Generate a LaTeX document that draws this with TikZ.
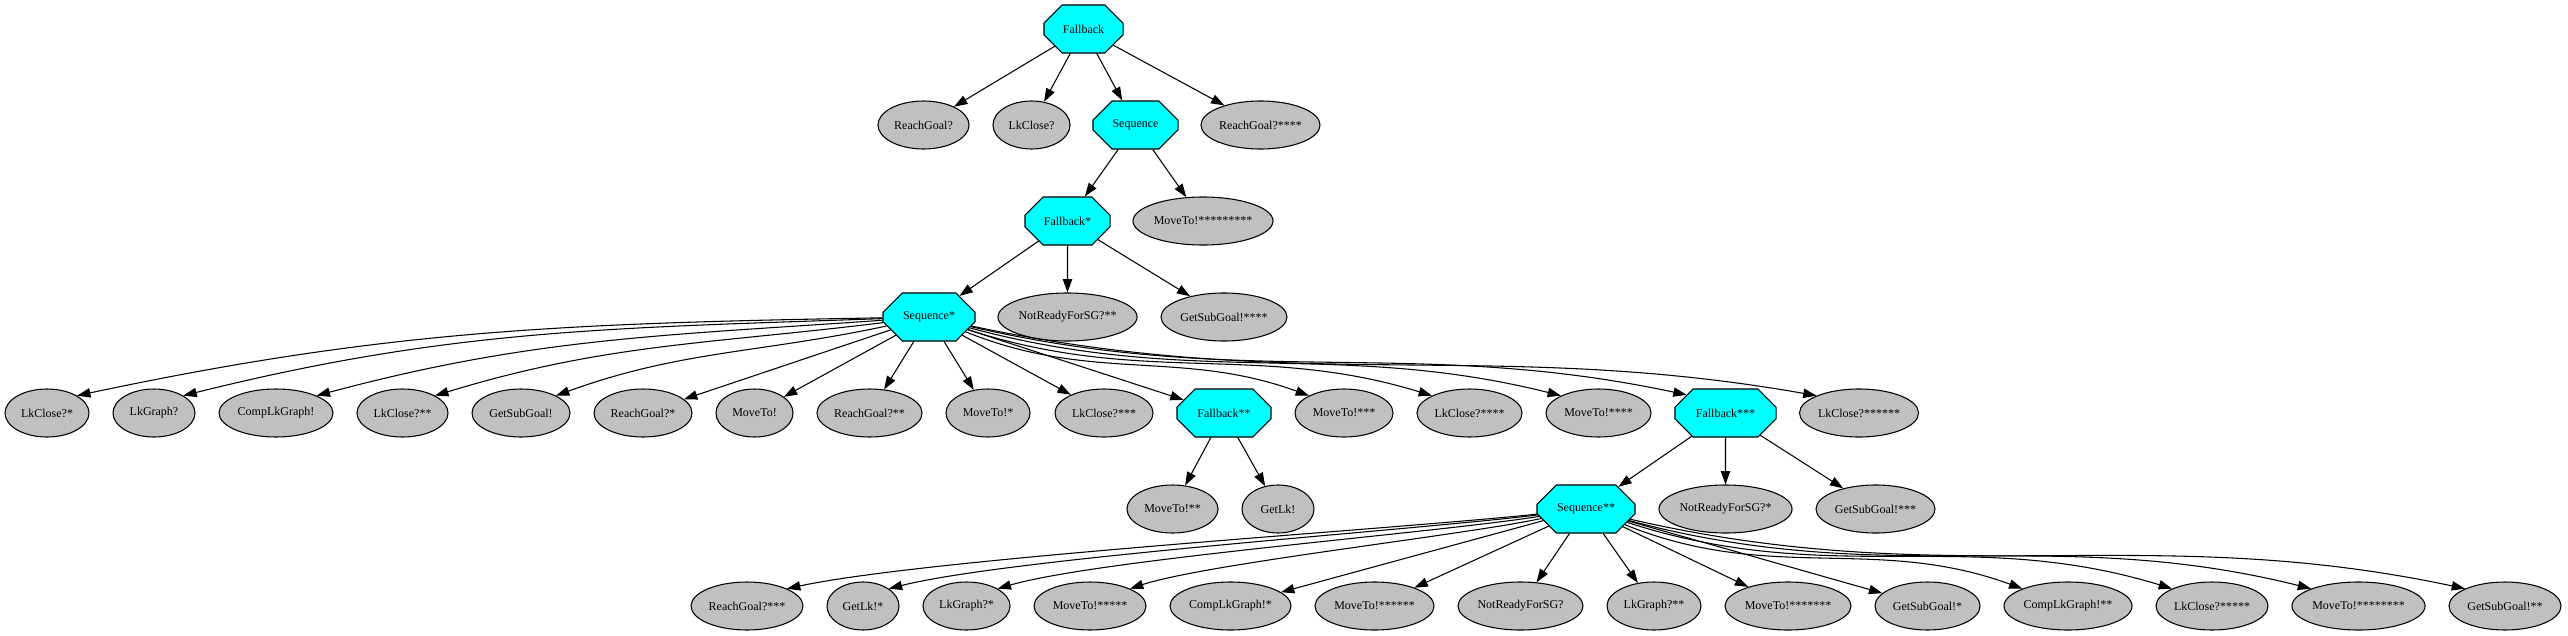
\documentclass[tikz,border=0pt]{standalone}
\usepackage{fontspec}
\setmainfont{Liberation Serif}
\usetikzlibrary{shapes.geometric,shapes.misc,arrows.meta}

\definecolor{ctrlcyan}{RGB}{0,255,255}
\definecolor{leafgray}{RGB}{192,192,192}

\begin{document}
\begin{tikzpicture}[x=0.75pt, y=0.75pt, font=\fontsize{9}{11}\selectfont,
  ctrl/.style={chamfered rectangle, draw=black, fill=ctrlcyan, line width=0.8pt,
    inner sep=0pt, minimum width=#1, minimum height=36pt,
    chamfered rectangle xsep=0.29*#1, chamfered rectangle ysep=10.5pt},
  leaf/.style={ellipse, draw=black, fill=leafgray, line width=0.8pt,
    inner sep=0pt, minimum width=#1, minimum height=36pt},
  edge/.style={-{Triangle[length=10pt,width=7pt]}, line width=0.8pt}]
\useasboundingbox (0,0) rectangle (2568,-635);

% top of the tree
\node[ctrl=59.3pt] (f0) at (1083.5,-29) {Fallback};
\node[leaf=68.3pt] (rg0) at (923.5,-125) {ReachGoal?};
\node[leaf=57.8pt] (lc0) at (1031.5,-125) {LkClose?};
\node[ctrl=63.8pt] (s0) at (1135.5,-125) {Sequence};
\node[leaf=89.3pt] (rg4) at (1260.5,-125) {ReachGoal?****};
\node[ctrl=63.8pt] (f1) at (1067.5,-221) {Fallback*};
\node[leaf=105pt] (mt9) at (1203,-221) {MoveTo!*********};
\node[ctrl=69pt] (s1) at (929,-317) {Sequence*};
\node[leaf=104.3pt] (nr2) at (1067.5,-317) {NotReadyForSG?**};
\node[leaf=94.5pt] (gs4) at (1224,-317) {GetSubGoal!****};

% children of Sequence*
\node[leaf=63pt] (lc1) at (47,-413) {LkClose?*};
\node[leaf=61.5pt] (lg0) at (154,-413) {LkGraph?};
\node[leaf=85.5pt] (cg0) at (276,-413) {CompLkGraph!};
\node[leaf=68.3pt] (lc2) at (402.5,-413) {LkClose?**};
\node[leaf=73.5pt] (gs0) at (521,-413) {GetSubGoal!};
\node[leaf=73.5pt] (rg1) at (643,-413) {ReachGoal?*};
\node[leaf=57.8pt] (mt0) at (754.5,-413) {MoveTo!};
\node[leaf=78.8pt] (rg2) at (869.5,-413) {ReachGoal?**};
\node[leaf=63pt] (mt1) at (988,-413) {MoveTo!*};
\node[leaf=73.5pt] (lc3) at (1104,-413) {LkClose?***};
\node[ctrl=70.5pt] (f2) at (1224,-413) {Fallback**};
\node[leaf=73.5pt] (mt3) at (1344,-413) {MoveTo!***};
\node[leaf=78.8pt] (lc4) at (1469.5,-413) {LkClose?****};
\node[leaf=78.8pt] (mt4) at (1598.5,-413) {MoveTo!****};
\node[ctrl=75.8pt] (f3) at (1725.5,-413) {Fallback***};
\node[leaf=89.3pt] (lc6) at (1859,-413) {LkClose?******};

\node[leaf=68.3pt] (mt2) at (1172.5,-509) {MoveTo!**};
\node[leaf=54pt] (gl0) at (1278,-509) {GetLk!};
\node[ctrl=73.5pt] (s2) at (1586,-509) {Sequence**};
\node[leaf=99.8pt] (nr1) at (1725.5,-509) {NotReadyForSG?*};
\node[leaf=89.3pt] (gs3) at (1875.5,-509) {GetSubGoal!***};

% children of Sequence**
\node[leaf=84pt] (rg3) at (747,-606) {ReachGoal?***};
\node[leaf=54pt] (gl1) at (863,-606) {GetLk!*};
\node[leaf=65.3pt] (lg1) at (966.5,-606) {LkGraph?*};
\node[leaf=84pt] (mt5) at (1090,-606) {MoveTo!*****};
\node[leaf=90.8pt] (cg1) at (1230.5,-606) {CompLkGraph!*};
\node[leaf=89.3pt] (mt6) at (1374.5,-606) {MoveTo!******};
\node[leaf=93.8pt] (nr0) at (1520.5,-606) {NotReadyForSG?};
\node[leaf=70.5pt] (lg2) at (1654,-606) {LkGraph?**};
\node[leaf=94.5pt] (mt7) at (1788,-606) {MoveTo!*******};
\node[leaf=78.8pt] (gs1) at (1927.5,-606) {GetSubGoal!*};
\node[leaf=96pt] (cg2) at (2068,-606) {CompLkGraph!**};
\node[leaf=84pt] (lc5) at (2212,-606) {LkClose?*****};
\node[leaf=99.8pt] (mt8) at (2358.5,-606) {MoveTo!********};
\node[leaf=84pt] (gs2) at (2505,-606) {GetSubGoal!**};

% straight edges
\foreach \a/\b in {f0/rg0, f0/lc0, f0/s0, f0/rg4, s0/f1, s0/mt9, f1/s1, f1/nr2,
    f1/gs4, s1/rg1, s1/mt0, s1/rg2, s1/mt1, s1/lc3, s1/f2, f2/mt2, f2/gl0,
    f3/s2, f3/nr1, f3/gs3, s2/cg1, s2/mt6, s2/nr0, s2/lg2, s2/mt7, s2/gs1}
  \draw[edge] (\a) -- (\b);

% long edges, bent like the layout engine does
\foreach \t/\o/\i in {lc1/181/12, lg0/182/14, cg0/184/15, lc2/187/17, gs0/192/20}
  \draw[edge] (s1) to[out=\o, in=\i] (\t.north east);
\foreach \t/\o/\i in {mt3/-22/160, lc4/-18/163, mt4/-15/166, lc6/-12/170}
  \draw[edge] (s1) to[out=\o, in=\i] (\t.north west);
\draw[edge] (s1) to[out=-13, in=168] (f3.155);

\foreach \t/\o/\i in {rg3/186/12, gl1/187/14, lg1/189/16, mt5/192/18}
  \draw[edge] (s2) to[out=\o, in=\i, looseness=0.5] (\t.north east);
\foreach \t/\o/\i in {cg2/-22/160, lc5/-18/163, mt8/-15/166, gs2/-13/168}
  \draw[edge] (s2) to[out=\o, in=\i] (\t.north west);
\end{tikzpicture}
\end{document}
